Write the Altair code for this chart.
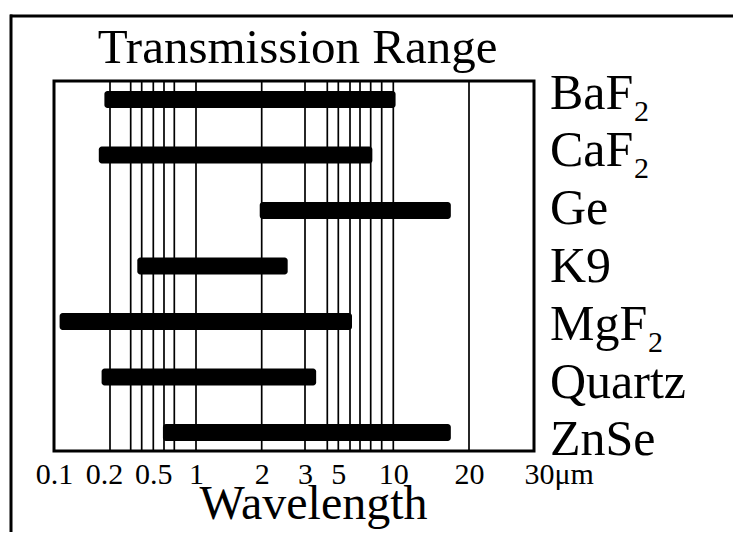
import altair as alt
import pandas as pd

# ---- data ----
MATERIALS = ["BaF2", "CaF2", "Ge", "K9", "MgF2", "Quartz", "ZnSe"]
LABEL_BASE = ["BaF", "CaF", "Ge", "K9", "MgF", "Quartz", "ZnSe"]
LABEL_SUB = ["2", "2", "", "", "2", "", ""]
RANGE_START = [0.19, 0.18, 1.97, 0.36, 0.11, 0.185, 0.59]   # µm
RANGE_END = [10.3, 8.15, 17.6, 2.6, 6.2, 3.5, 17.6]         # µm

GRID_VALUES = [0.2, 0.3, 0.4, 0.5, 0.6, 0.7, 1, 2, 3, 4, 5, 6, 7, 8, 9, 10, 20]
TICK_LABELS = [0.1, 0.2, 0.5, 1, 2, 3, 5, 10, 20, 30]
UNIT = "μm"
TITLE = ["Transmission Range"]
X_TITLE = "Wavelength"

# the reference axis is a hand-made (non-logarithmic) wavelength ruler:
# piecewise scale, pixel stop for each wavelength
SCALE_DOMAIN = [0.1, 0.2, 0.3, 0.4, 0.5, 0.6, 0.7, 1, 2, 3, 4, 5, 6, 7, 8, 9, 10, 20, 30]
SCALE_STOPS = [0, 56, 76.7, 87.7, 99.3, 110, 120.3, 142, 207.7, 251, 273.3,
               284.3, 296, 306, 316.7, 327.7, 339.3, 415, 480]

FONT = "Liberation Serif"

df = pd.DataFrame({
    "material": MATERIALS,
    "base": LABEL_BASE,
    "sub": LABEL_SUB,
    "start": RANGE_START,
    "end": RANGE_END,
})
grid_df = pd.DataFrame({"g": GRID_VALUES})

label_expr = f"datum.value == 30 ? datum.label + '{UNIT}' : datum.label"

x_scale = alt.Scale(type="linear", domain=SCALE_DOMAIN, range=SCALE_STOPS,
                    zero=False, nice=False)
x_axis = alt.Axis(
    values=TICK_LABELS, format="~g", labelExpr=label_expr,
    grid=False, ticks=False, tickSize=0, domain=False,
    labelFont=FONT, labelFontSize=30, labelColor="black",
    labelPadding=32, labelBaseline="alphabetic",
    labelOverlap=False, labelFlush=False, labelBound=False,
    labelAlign={"condition": {"test": "datum.value == 30", "value": "left"}, "value": "center"},
    labelOffset={"condition": [
        {"test": "datum.value == 30", "value": -10},
        {"test": "datum.value == 0.2", "value": -6},
    ], "value": 0},
    title=X_TITLE, titleFont=FONT, titleFontSize=48, titleFontWeight="normal",
    titleColor="black", titleX=259, titleY=67, titleBaseline="alphabetic",
    titleAlign="center",
)

grid = alt.Chart(grid_df).mark_rule(color="black", strokeWidth=1.7).encode(
    x=alt.X("g:Q", scale=x_scale, axis=x_axis, title=X_TITLE),
)

bars = alt.Chart(df).mark_bar(color="black", height=17, cornerRadius=3).encode(
    x=alt.X("start:Q", scale=x_scale, axis=x_axis, title=X_TITLE),
    x2="end:Q",
    y=alt.Y("material:N", scale=alt.Scale(type="point", domain=MATERIALS, padding=0.333),
            axis=None),
)

label_scale = alt.Scale(type="point", domain=MATERIALS, padding=0.2)

labels = alt.Chart(df).mark_text(
    font=FONT, fontSize=50, align="left", baseline="alphabetic", dy=16, color="black"
).encode(
    x=alt.value(496),
    y=alt.Y("material:N", scale=label_scale, axis=None),
    text="base:N",
)

sub_a = alt.Chart(df).transform_filter(
    "datum.base == 'BaF' || datum.base == 'CaF'"
).mark_text(
    font=FONT, fontSize=30, align="left", baseline="alphabetic", dx=84, dy=28, color="black"
).encode(
    x=alt.value(496),
    y=alt.Y("material:N", scale=label_scale, axis=None),
    text="sub:N",
)

sub_b = alt.Chart(df).transform_filter("datum.base == 'MgF'").mark_text(
    font=FONT, fontSize=30, align="left", baseline="alphabetic", dx=98, dy=28, color="black"
).encode(
    x=alt.value(496),
    y=alt.Y("material:N", scale=label_scale, axis=None),
    text="sub:N",
)

title = alt.Chart(pd.DataFrame({"t": TITLE})).mark_text(
    font=FONT, fontSize=49, align="center", baseline="alphabetic", color="black"
).encode(x=alt.value(243.5), y=alt.value(-18), text="t:N")

one = pd.DataFrame({"k": [0]})
border_left = alt.Chart(one).mark_rule(color="black", strokeWidth=3, strokeCap="square").encode(
    x=alt.value(-43), y=alt.value(-65), y2=alt.value(470)
)
border_top = alt.Chart(one).mark_rule(color="black", strokeWidth=3, strokeCap="butt").encode(
    x=alt.value(-44), x2=alt.value(679), y=alt.value(-65)
)

chart = alt.layer(
    border_left, border_top, grid, bars, labels, sub_a, sub_b, title
).resolve_scale(
    y="independent"
).properties(
    width=480, height=370,
    autosize=alt.AutoSizeParams(type="none"),
    padding={"left": 46, "top": 73, "right": 199, "bottom": 81},
    background="white",
).configure_view(
    stroke="black", strokeWidth=3
)

chart.save("out.html", embed_options={"renderer": "svg", "actions": False})
